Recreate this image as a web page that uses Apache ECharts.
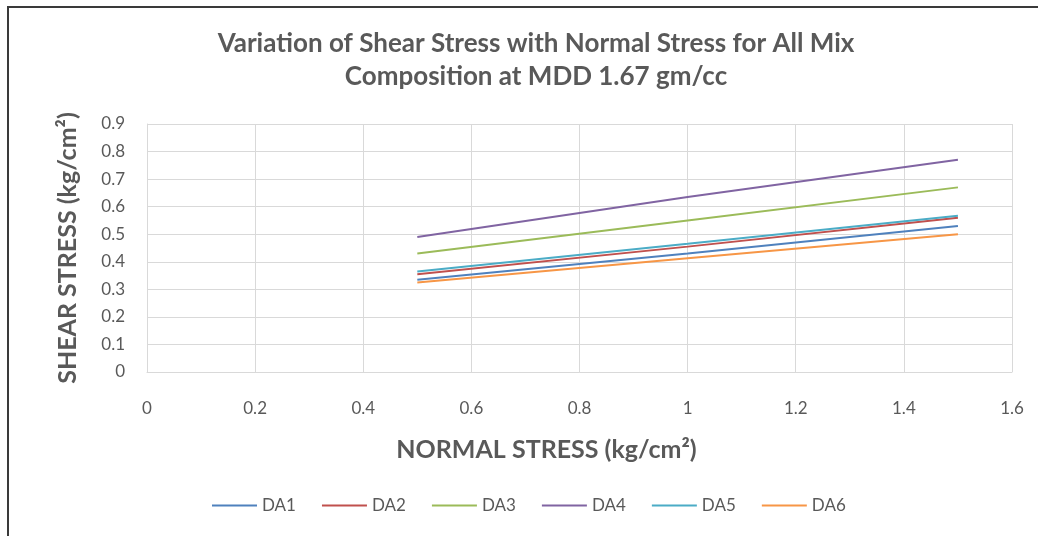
<!DOCTYPE html>
<html>
<head>
<meta charset="utf-8">
<script src="https://cdn.jsdelivr.net/npm/echarts@6/dist/echarts.min.js"></script>
<style>
html,body{margin:0;padding:0;background:#fff;}
#c{width:1038px;height:536px;}
</style>
</head>
<body>
<div id="c"></div>
<script>
const xValues = [0.5, 1.0, 1.5];
const seriesNames = ['DA1', 'DA2', 'DA3', 'DA4', 'DA5', 'DA6'];
const DA1 = [0.335, 0.43, 0.53];
const DA2 = [0.355, 0.455, 0.56];
const DA3 = [0.43, 0.55, 0.67];
const DA4 = [0.49, 0.635, 0.77];
const DA5 = [0.365, 0.465, 0.567];
const DA6 = [0.325, 0.413, 0.50];
const seriesValues = [DA1, DA2, DA3, DA4, DA5, DA6];
const colors = ['#4F81BD', '#C0504D', '#9BBB59', '#8064A2', '#4BACC6', '#F79646'];

const FONT = 'Lato, "Open Sans", sans-serif';
const chart = echarts.init(document.getElementById('c'), null, {renderer: 'canvas'});
chart.setOption({
  animation: false,
  color: colors,
  title: {
    text: 'Variation of Shear Stress with Normal Stress for All Mix\nComposition at MDD 1.67 gm/cc',
    left: 531, top: 22, textAlign: 'center',
    textStyle: {fontFamily: FONT, fontSize: 26, fontWeight: 'bold', color: '#595959', lineHeight: 33}
  },
  legend: {
    left: 207, top: 492,
    data: seriesNames,
    icon: 'rect',
    itemWidth: 45, itemHeight: 2, itemGap: 26,
    textStyle: {fontFamily: FONT, fontSize: 17, color: '#595959'}
  },
  grid: {left: 147, right: 26, top: 124, bottom: 164},
  xAxis: {
    type: 'value', min: 0, max: 1.6, interval: 0.2,
    name: 'NORMAL STRESS (kg/cm²)', nameLocation: 'middle', nameGap: 65,
    nameTextStyle: {fontFamily: FONT, fontSize: 25, fontWeight: 'bold', color: '#595959', padding: [0, 66, 0, 0]},
    axisLine: {show: true, lineStyle: {color: '#d9d9d9'}},
    axisTick: {show: false},
    axisLabel: {fontFamily: FONT, fontSize: 17, color: '#595959', margin: 28,
      formatter: v => String(+v.toFixed(1))},
    splitLine: {show: true, lineStyle: {color: '#d9d9d9'}}
  },
  yAxis: {
    type: 'value', min: 0, max: 0.9, interval: 0.1,
    name: 'SHEAR STRESS (kg/cm²)', nameLocation: 'middle', nameGap: 67,
    nameTextStyle: {fontFamily: FONT, fontSize: 25, fontWeight: 'bold', color: '#595959'},
    axisLine: {show: true, lineStyle: {color: '#d9d9d9'}},
    axisTick: {show: false},
    axisLabel: {fontFamily: FONT, fontSize: 17, color: '#595959', margin: 22,
      formatter: v => String(+v.toFixed(1))},
    splitLine: {show: true, lineStyle: {color: '#d9d9d9'}}
  },
  graphic: [{
    type: 'rect', silent: true,
    shape: {x: 8, y: 7, width: 1040, height: 540},
    style: {fill: 'none', stroke: '#3a3a3a', lineWidth: 2}
  }],
  series: seriesNames.map((n, i) => ({
    name: n, type: 'line', symbol: 'none',
    lineStyle: {width: 2},
    data: xValues.map((x, j) => [x, seriesValues[i][j]])
  }))
});
</script>
</body>
</html>
